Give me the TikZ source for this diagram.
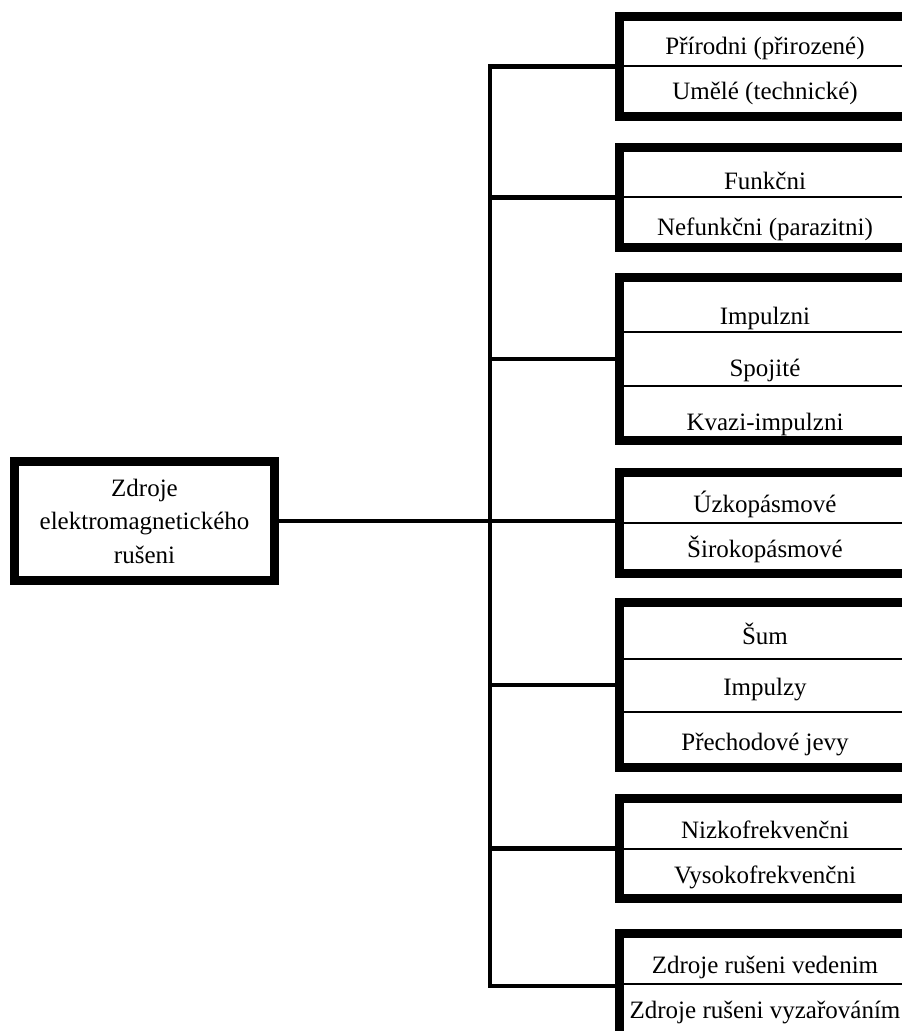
\documentclass[tikz,border=0pt]{standalone}
\usepackage{fontspec}
\setmainfont{Liberation Serif}
\begin{document}
\begin{tikzpicture}[x=1pt,y=-1pt,
  txt/.style={anchor=base,inner sep=0pt,font=\fontsize{25}{33.5}\selectfont},
  bigbox/.style={draw,line width=9pt,inner sep=0pt,minimum width=291pt},
  rootbox/.style={draw,line width=9pt,inner sep=0pt,minimum width=260pt,minimum height=119pt,
    align=center,font=\fontsize{25}{33.5}\selectfont},
  divider/.style={line width=1.6pt},
  branch/.style={line width=4.5pt,line join=miter},
]
\useasboundingbox (0,0) rectangle (902,1031);
\clip (0,0) rectangle (902,1031);

% item texts
\node[txt] (t11) at (765,54)   {Přírodni (přirozené)};
\node[txt] (t12) at (765,99)   {Umělé (technické)};
\node[txt] (t21) at (765,189)  {Funkčni};
\node[txt] (t22) at (765,235)  {Nefunkčni (parazitni)};
\node[txt] (t31) at (765,324)  {Impulzni};
\node[txt] (t32) at (765,376)  {Spojité};
\node[txt] (t33) at (765,430)  {Kvazi-impulzni};
\node[txt] (t41) at (765,512)  {Úzkopásmové};
\node[txt] (t42) at (765,557)  {Širokopásmové};
\node[txt] (t51) at (765,644)  {Šum};
\node[txt] (t52) at (765,695)  {Impulzy};
\node[txt] (t53) at (765,750)  {Přechodové jevy};
\node[txt] (t61) at (765,838)  {Nizkofrekvenčni};
\node[txt] (t62) at (765,883)  {Vysokofrekvenčni};
\node[txt] (t71) at (765,973)  {Zdroje rušeni vedenim};
\node[txt] (t72) at (765,1018) {Zdroje rušeni vyzařováním};

% category boxes
\node[bigbox,minimum height=100pt] (b1) at (765,66.5)  {};
\node[bigbox,minimum height=100pt] (b2) at (765,197.5) {};
\node[bigbox,minimum height=163pt] (b3) at (765,359)   {};
\node[bigbox,minimum height=101pt] (b4) at (765,523)   {};
\node[bigbox,minimum height=165pt] (b5) at (765,685)   {};
\node[bigbox,minimum height=100pt] (b6) at (765,848.5) {};
\node[bigbox,minimum height=105pt] (b7) at (765,986)   {};

% row dividers
\draw[divider] (b1.west |- 0,66)  -- (b1.east |- 0,66);
\draw[divider] (b2.west |- 0,197) -- (b2.east |- 0,197);
\draw[divider] (b3.west |- 0,332) -- (b3.east |- 0,332);
\draw[divider] (b3.west |- 0,386) -- (b3.east |- 0,386);
\draw[divider] (b4.west |- 0,523) -- (b4.east |- 0,523);
\draw[divider] (b5.west |- 0,659) -- (b5.east |- 0,659);
\draw[divider] (b5.west |- 0,712) -- (b5.east |- 0,712);
\draw[divider] (b6.west |- 0,849) -- (b6.east |- 0,849);
\draw[divider] (b7.west |- 0,984) -- (b7.east |- 0,984);

% root
\node[rootbox] (root) at (144.5,521) {Zdroje\\elektromagnetického\\rušeni};

% trunk and branches
\coordinate (trunk) at (490,519);
\draw[branch] (b1.west) -- (b1.west -| trunk) -- (b7.west -| trunk) -- (b7.west);
\draw[branch] (b2.west -| trunk) -- (b2.west);
\draw[branch] (b3.west -| trunk) -- (b3.west);
\draw[branch] (b5.west -| trunk) -- (b5.west);
\draw[branch] (b6.west -| trunk) -- (b6.west);
\draw[branch] (root.east) -- (root.east -| b4.west);
\end{tikzpicture}
\end{document}
